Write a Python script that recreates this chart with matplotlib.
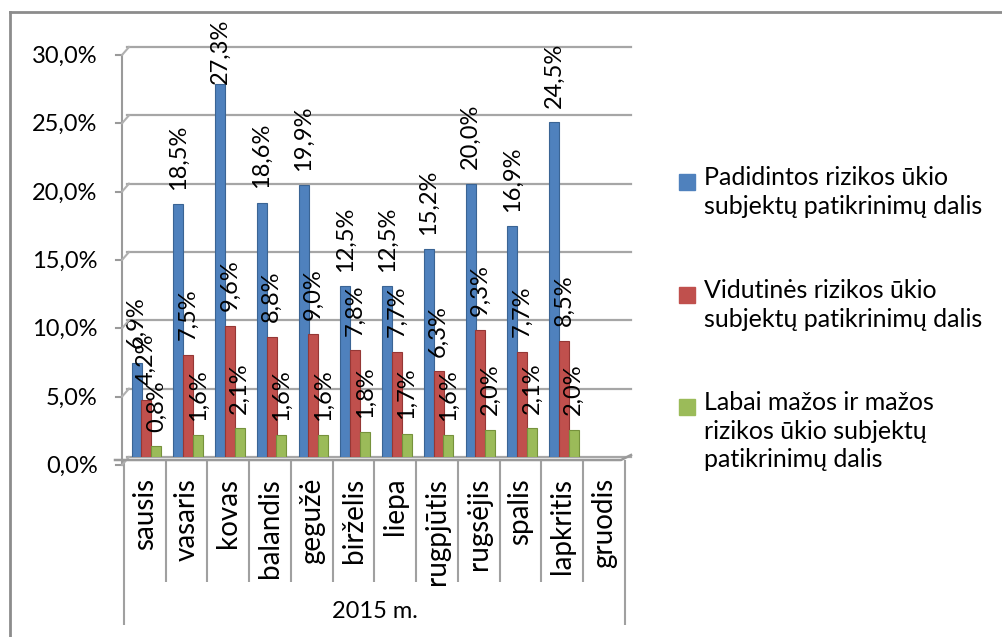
import numpy as np
import matplotlib
matplotlib.use("Agg")
import matplotlib.pyplot as plt
from matplotlib.lines import Line2D
from matplotlib.patches import Rectangle
from matplotlib.transforms import ScaledTranslation

plt.rcParams['font.family'] = ['Lato', 'DejaVu Sans']

months = ["sausis", "vasaris", "kovas", "balandis", "gegužė", "birželis",
          "liepa", "rugpjūtis", "rugsėjis", "spalis", "lapkritis", "gruodis"]
high = [6.9, 18.5, 27.3, 18.6, 19.9, 12.5, 12.5, 15.2, 20.0, 16.9, 24.5, np.nan]
medium = [4.2, 7.5, 9.6, 8.8, 9.0, 7.8, 7.7, 6.3, 9.3, 7.7, 8.5, np.nan]
low = [0.8, 1.6, 2.1, 1.6, 1.6, 1.8, 1.7, 1.6, 2.0, 2.1, 2.0, np.nan]
series_names = ["Padidintos rizikos ūkio\nsubjektų patikrinimų dalis",
                "Vidutinės rizikos ūkio\nsubjektų patikrinimų dalis",
                "Labai mažos ir mažos\nrizikos ūkio subjektų\npatikrinimų dalis"]
colors = ["#4F81BD", "#C0504D", "#9BBB59"]
edges = ["#3A6494", "#953735", "#76923C"]
yticks = [0, 5, 10, 15, 20, 25, 30]
year_label = "2015 m."

W, H = 1002, 637
fig = plt.figure(figsize=(W / 100, H / 100), dpi=100)


def px(x, y):
    return x / W, 1 - y / H


def fline(xs, ys, **kw):
    pts = [px(a, b) for a, b in zip(xs, ys)]
    fig.add_artist(Line2D([p[0] for p in pts], [p[1] for p in pts],
                          transform=fig.transFigure, **kw))


ax = fig.add_axes([124 / W, 1 - 457 / H, 501 / W, 410 / H])
ax.set_xlim(-0.5, 11.5)
ax.set_ylim(0, 30)
for s in ax.spines.values():
    s.set_visible(False)

# back wall gridlines
for t in yticks:
    ax.axhline(t, xmin=0.006, xmax=1.012, color="#a6a6a6", lw=1.6,
               clip_on=False, zorder=0)

x = np.arange(len(months))
offsets = [-0.2, 0.035, 0.27]
width = 0.24
for vals, off, c, ec in zip([high, medium, low], offsets, colors, edges):
    ax.bar(x + off, vals, width, color=c, edgecolor=ec, linewidth=0.8, zorder=3)
    for xi, v in zip(x, vals):
        if np.isnan(v):
            continue
        ypos = min(v + 1.05, 27.3)
        ax.text(xi + off, ypos, f"{v:.1f}%".replace(".", ","), rotation=90,
                ha="center", va="bottom", fontsize=17, zorder=5)

# y axis labels (front axis sits a bit lower than back wall)
ax.set_yticks(yticks)
ax.set_yticklabels([f"{t:.1f}%".replace(".", ",") for t in yticks], fontsize=17)
ax.tick_params(axis="y", length=0, pad=19)
shift = ScaledTranslation(0, -0.075, fig.dpi_scale_trans)
for lab in ax.get_yticklabels():
    lab.set_transform(lab.get_transform() + shift)

ax.set_xticks(x)
ax.set_xticklabels(months, rotation=90, fontsize=20)
ax.tick_params(axis="x", length=0, pad=15)

# front vertical axis with ticks and corners to back wall
fline([122, 122], [55, 463], color="#9a9a9a", lw=1.5)
for t in yticks:
    yb = 457 - t * 410 / 30
    fline([116, 122], [yb + 8, yb + 8], color="#9a9a9a", lw=1.5)
    fline([122, 129], [yb + 8, yb], color="#b0b0b0", lw=1.5)

# floor front edge
fline([115, 621, 631], [460, 460, 455], color="#9a9a9a", lw=1.8)

# category table
xt = ax.get_xaxis_transform()
ax.vlines(np.arange(1, 12) - 0.5, -0.305, -0.007, transform=xt,
          color="#a0a0a0", lw=1.5, clip_on=False)
ax.vlines([-0.5, 11.5], -0.41, -0.007, transform=xt,
          color="#a0a0a0", lw=1.5, clip_on=False)
ax.text(5.5, -0.377, year_label, transform=xt, ha="center", va="center",
        fontsize=17)

# legend
for i, (name, c) in enumerate(zip(series_names, colors)):
    yc = [182, 295, 407][i]
    x0, y0 = px(679, yc + 8)
    fig.patches.append(Rectangle((x0, y0), 16 / W, 16 / H, color=c,
                                 transform=fig.transFigure))
    tx, ty = px(704, yc - 16)
    fig.text(tx, ty, name, ha="left", va="top", fontsize=18, linespacing=1.3)

# chart border
fline([10, 1002], [12, 12], color="#8c8c8c", lw=2)
fline([10, 10], [12, 637], color="#8c8c8c", lw=2)

fig.savefig("out.png", dpi=100)
